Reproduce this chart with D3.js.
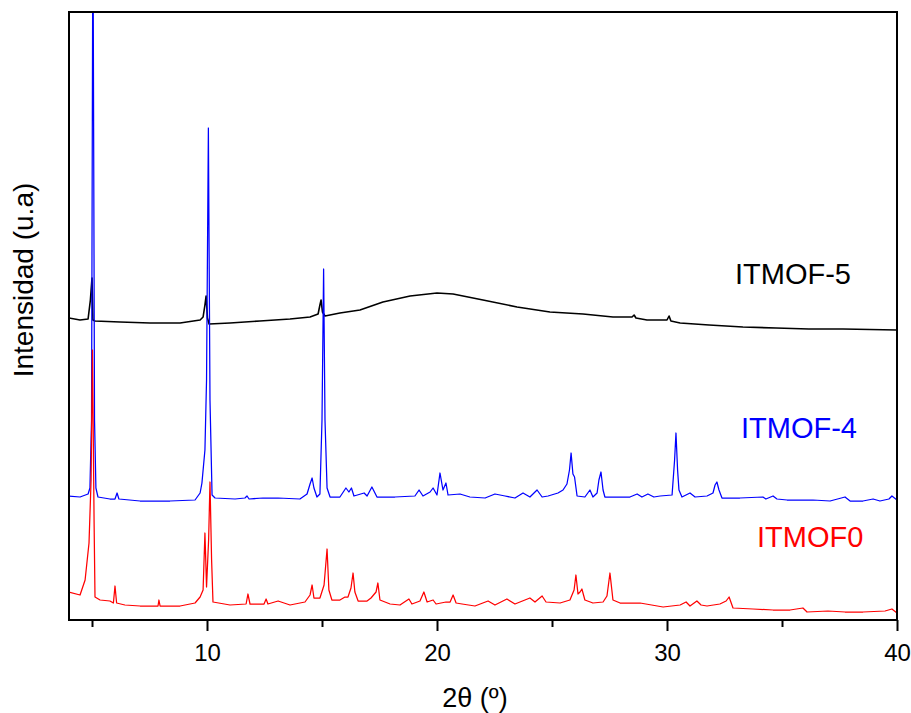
<!DOCTYPE html>
<html>
<head>
<meta charset="utf-8">
<script src="https://cdn.jsdelivr.net/npm/d3@7/dist/d3.min.js"></script>
<style>
  html, body { margin: 0; padding: 0; background: #fff; }
  svg { display: block; font-family: "Liberation Sans", Arial, sans-serif; }
</style>
</head>
<body>
<svg id="chart" width="911" height="713"></svg>
<script>
// Powder XRD patterns, 2θ in degrees vs intensity (a.u., vertically offset)
const majorTicks = [10, 20, 30, 40];
const minorTicks = [5, 15, 25, 35];
const seriesNames = ["ITMOF-5", "ITMOF-4", "ITMOF0"];
const seriesColors = ["#000000", "#0000ff", "#ff0000"];

const itmof5 = [
  [4.00,302],[4.48,300],[4.83,301],[4.93,320],[5.00,342],[5.04,300],[5.13,299],
  [6.22,298],[7.52,297],[8.83,297],[9.70,300],[9.83,303],[9.91,315],[9.96,324],
  [10.02,302],[10.09,296],[11.0,297],[12.30,299],[13.61,301],[14.48,303],[14.83,306],
  [14.91,315],[14.96,320],[15.02,308],[15.13,304],[15.78,307],[16.65,310],[17.65,318],
  [18.83,324],[20.0,327],[20.70,326],[22.0,320],[23.48,313],[24.91,308],[26.35,306],
  [27.65,303],[28.48,303],[28.57,305],[28.65,302],[29.13,300],[30.0,300],[30.09,304],
  [30.17,299],[30.57,297],[31.83,295],[33.30,293],[34.74,292],[36.17,291],[37.65,291],
  [40.0,290]
];

const itmof4 = [
  [4.00,124],[4.48,123],[4.83,126],[4.91,132],[4.98,200],[5.04,720],[5.11,200],
  [5.17,132],[5.26,123],[5.78,121],[6.00,121],[6.09,127],[6.17,121],[7.09,119],
  [8.39,119],[9.48,120],[9.70,127],[9.78,137],[9.91,170],[9.98,240],[10.06,492],
  [10.13,220],[10.22,125],[10.35,122],[11.22,121],[11.65,122],[11.74,124],[11.83,121],
  [12.43,122],[13.09,122],[14.04,121],[14.35,126],[14.48,136],[14.57,142],[14.65,132],
  [14.78,123],[14.91,126],[15.0,200],[15.07,351],[15.13,200],[15.22,132],[15.35,123],
  [15.78,123],[16.04,132],[16.17,128],[16.28,132],[16.39,124],[16.83,127],[16.96,124],
  [17.17,133],[17.39,123],[18.17,123],[19.04,124],[19.22,130],[19.39,124],[19.70,128],
  [19.83,132],[20.0,125],[20.13,147],[20.26,130],[20.39,137],[20.48,125],[21.0,126],
  [21.43,123],[22.09,122],[22.52,126],[22.96,124],[23.39,122],[23.74,127],[24.04,123],
  [24.35,130],[24.57,123],[24.83,124],[25.26,127],[25.48,130],[25.65,136],[25.76,150],
  [25.83,167],[25.91,146],[25.98,143],[26.09,124],[26.43,123],[26.65,130],[26.78,123],
  [26.96,127],[27.04,140],[27.13,148],[27.22,130],[27.30,123],[27.96,123],[28.39,123],
  [28.70,126],[28.91,123],[29.17,126],[29.43,123],[29.70,124],[30.22,125],[30.33,160],
  [30.39,187],[30.46,150],[30.52,130],[30.65,123],[31.0,127],[31.22,123],[31.74,124],
  [32.0,127],[32.09,135],[32.17,138],[32.26,130],[32.39,122],[33.17,122],[34.17,123],
  [34.30,121],[34.61,124],[34.78,121],[35.22,120],[36.35,120],[37.09,119],[37.74,123],
  [37.96,119],[38.52,119],[38.96,121],[39.26,119],[39.65,121],[39.78,124],[40.0,120]
];

const itmof0 = [
  [4.00,28],[4.48,25],[4.70,40],[4.87,77],[4.96,140],[5.02,270],[5.09,100],[5.13,23],
  [5.35,20],[5.78,19],[5.93,17],[6.00,34],[6.07,17],[6.43,15],[7.09,14],[7.87,14],
  [7.91,20],[7.96,14],[8.83,14],[9.48,17],[9.70,23],[9.83,30],[9.91,87],[9.98,33],
  [10.07,80],[10.13,138],[10.20,60],[10.26,18],[11.0,15],[11.70,16],[11.78,26],
  [11.87,16],[12.48,16],[12.57,21],[12.65,16],[13.09,19],[13.61,15],[14.26,18],
  [14.48,25],[14.57,35],[14.65,22],[14.91,22],[15.09,35],[15.22,71],[15.30,30],
  [15.43,20],[15.78,20],[16.00,23],[16.13,23],[16.26,32],[16.35,47],[16.43,28],
  [16.57,19],[16.96,19],[17.13,22],[17.35,28],[17.43,37],[17.52,20],[17.96,16],
  [18.39,15],[18.78,21],[18.91,16],[19.26,19],[19.43,28],[19.57,18],[19.83,20],
  [19.96,16],[20.39,18],[20.57,18],[20.70,25],[20.83,17],[21.09,16],[21.65,14],
  [22.22,19],[22.52,15],[23.04,21],[23.39,16],[24.04,22],[24.26,18],[24.57,24],
  [24.74,18],[25.35,17],[25.78,20],[25.96,30],[26.04,45],[26.13,26],[26.22,28],
  [26.30,31],[26.43,20],[26.78,17],[27.22,18],[27.39,24],[27.52,47],[27.65,20],
  [27.96,17],[28.83,17],[29.83,13],[30.57,15],[30.83,18],[31.0,14],[31.30,19],
  [31.48,15],[31.74,14],[32.30,16],[32.57,19],[32.70,23],[32.87,12],[33.74,11],
  [34.61,10],[35.35,10],[35.91,12],[36.09,8],[37.0,9],[37.74,8],[38.52,8],
  [39.48,9],[39.78,11],[40.0,7]
];

const seriesData = [itmof5, itmof4, itmof0];

const svg = d3.select("#chart");
const plot = { left: 69, right: 897, top: 12, bottom: 620 };

const x = d3.scaleLinear().domain([4, 40]).range([plot.left, plot.right]);
const y = d3.scaleLinear().domain([0, 608]).range([plot.bottom, plot.top]);

svg.append("defs").append("clipPath").attr("id", "plot-clip")
  .append("rect")
  .attr("x", plot.left).attr("y", plot.top)
  .attr("width", plot.right - plot.left).attr("height", plot.bottom - plot.top);

// Diffraction traces
const line = d3.line().x(d => x(d[0])).y(d => y(d[1]));
const traces = svg.append("g").attr("clip-path", "url(#plot-clip)");
seriesData.forEach((data, i) => {
  traces.append("path")
    .datum(data)
    .attr("fill", "none")
    .attr("stroke", seriesColors[i])
    .attr("stroke-width", i === 0 ? 1.6 : 1.25)
    .attr("stroke-linejoin", "round")
    .attr("d", line);
});

// Bottom axis: labelled major ticks and unlabelled minor ticks
const majorAxis = d3.axisBottom(x).tickValues(majorTicks).tickSize(11).tickPadding(13)
  .tickFormat(d3.format("d"));
const minorAxis = d3.axisBottom(x).tickValues(minorTicks).tickSize(7).tickFormat("");

const gMajor = svg.append("g").attr("transform", `translate(0,${plot.bottom})`).call(majorAxis);
const gMinor = svg.append("g").attr("transform", `translate(0,${plot.bottom})`).call(minorAxis);
[gMajor, gMinor].forEach(g => {
  g.select(".domain").remove();
  g.selectAll(".tick line").attr("stroke", "#000").attr("stroke-width", 2);
});
gMajor.selectAll(".tick text")
  .attr("fill", "#000")
  .style("font-size", "24px")
  .style("font-family", "'Liberation Sans', Arial, sans-serif");

// Frame around the plot area
svg.append("rect")
  .attr("x", plot.left).attr("y", plot.top)
  .attr("width", plot.right - plot.left).attr("height", plot.bottom - plot.top)
  .attr("fill", "none").attr("stroke", "#000").attr("stroke-width", 2);

// Series labels
const labelPos = [[735, 284], [741, 438], [757, 547]];
seriesNames.forEach((name, i) => {
  svg.append("text")
    .attr("x", labelPos[i][0]).attr("y", labelPos[i][1])
    .attr("fill", seriesColors[i])
    .style("font-size", "29px")
    .text(name);
});

// Axis titles
svg.append("text")
  .attr("x", 475).attr("y", 707)
  .attr("text-anchor", "middle")
  .style("font-size", "27px")
  .text("2θ (º)");

svg.append("text")
  .attr("transform", "translate(33,280) rotate(-90)")
  .attr("text-anchor", "middle")
  .style("font-size", "28px")
  .text("Intensidad (u.a)");
</script>
</body>
</html>
